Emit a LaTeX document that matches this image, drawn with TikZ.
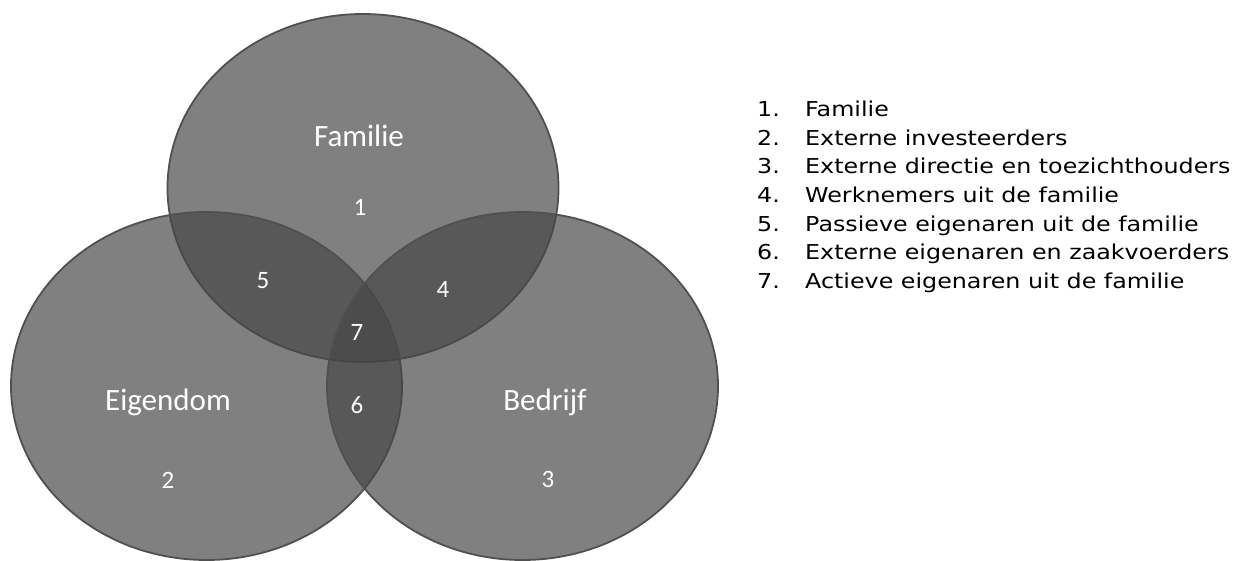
\documentclass[tikz,border=0pt]{standalone}
\usepackage{fontspec}
\setmainfont{Carlito}
\newfontfamily\listfont[FakeStretch=1.16]{DejaVu Sans}
\usepackage{tikz}
\usetikzlibrary{shapes.geometric}
\definecolor{vennfill}{RGB}{70,70,70}
\definecolor{vennline}{RGB}{80,80,80}
\tikzstyle{vennset}=[ellipse,draw=vennline,line width=1.8pt,fill=vennfill,fill opacity=0.685,inner sep=0pt,minimum width=391pt,minimum height=348pt]
\tikzstyle{setname}=[anchor=base,text=white,font=\fontsize{31}{31}\selectfont,inner sep=0pt]
\tikzstyle{region}=[anchor=base,text=white,font=\fontsize{25}{25}\selectfont,inner sep=0pt]
\tikzstyle{item}=[anchor=base west,font=\listfont\fontsize{20.5}{20.5}\selectfont,inner sep=0pt]

\begin{document}
\begin{tikzpicture}[x=1pt,y=-1pt]
  \useasboundingbox (0,0) rectangle (1241,561);

  % the three sets
  \foreach \x/\y/\name in {363/188/fam, 206.5/386/eig, 522.5/386/bed}
    \node[vennset] (\name) at (\x,\y) {};

  \node[setname] (famname) at (359,146.7) {Familie};
  \node[setname] (eigname) at (168,410) {Eigendom};
  \node[setname] (bedname) at (545,410) {Bedrijf};

  % region numbers
  \foreach \x/\y/\name/\label in {360/216/r1/1, 168/488/r2/2, 548/487/r3/3, 443/297/r4/4,
                                  263/288.3/r5/5, 357/413/r6/6, 357/340.7/r7/7}
    \node[region] (\name) at (\x,\y) {\label};

  % legend
  \foreach \i/\txt in {1/Familie, 2/Externe investeerders, 3/Externe directie en toezichthouders,
                       4/Werknemers uit de familie, 5/Passieve eigenaren uit de familie,
                       6/Externe eigenaren en zaakvoerders, 7/Actieve eigenaren uit de familie}
  {
    \node[item] (num\i) at (757,{116.7+28.6*(\i-1)}) {\i.};
    \node[item] (item\i) at (805,{116.7+28.6*(\i-1)}) {\txt};
  }

\end{tikzpicture}
\end{document}
